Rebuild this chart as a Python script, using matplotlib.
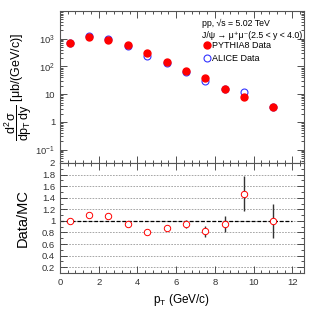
import matplotlib
matplotlib.use("Agg")
import matplotlib.pyplot as plt
from matplotlib.ticker import AutoMinorLocator, LogLocator, NullFormatter, FixedLocator
import numpy as np

# data
pt = [0.5, 1.5, 2.5, 3.5, 4.5, 5.5, 6.5, 7.5, 8.5, 9.5, 11.0]
pythia = [690, 1140, 920, 575, 300, 150, 66, 37, 15.8, 8.0, 3.5]
alice = [690, 1260, 990, 545, 235, 130, 62, 30, 15, 11.8, 3.5]
ratio = [1.0, 1.1, 1.08, 0.95, 0.8, 0.88, 0.94, 0.82, 0.95, 1.47, 1.0]
ratio_err = [0.02, 0.02, 0.02, 0.02, 0.02, 0.03, 0.07, 0.09, 0.14, 0.30, 0.30]

plt.rcParams['font.family'] = ['Liberation Sans', 'DejaVu Sans']
plt.rcParams['mathtext.fontset'] = 'custom'
plt.rcParams['mathtext.rm'] = 'Liberation Sans'
plt.rcParams['mathtext.it'] = 'Liberation Sans'

fig = plt.figure(figsize=(3.31, 3.24), dpi=100)
ax1 = fig.add_axes([60/331, 1-163/324, 244/331, 152/324])
ax2 = fig.add_axes([60/331, 1-273/324, 244/331, 110/324], sharex=ax1)


def root_style(ax):
    ax.tick_params(which='both', direction='in', top=True, right=True, labelsize=6.8, colors='#333333')
    ax.tick_params(which='major', length=5, width=0.6)
    ax.tick_params(which='minor', length=2.5, width=0.6)
    for s in ax.spines.values():
        s.set_color('#555555')
        s.set_linewidth(0.8)


# top panel
ax1.set_yscale('log')
ax1.plot(pt, pythia, 'o', color='red', ms=5, label='PYTHIA8 Data', zorder=3)
ax1.plot(pt, alice, 'o', mfc='none', mec='#3333ff', mew=0.8, ms=5, label='ALICE Data', zorder=2)
ax1.set_ylim(0.033, 1.0e4)
ax1.set_xlim(0, 12.6)
ax1.yaxis.set_major_locator(FixedLocator([0.1, 1, 10, 100, 1000]))
ax1.set_yticklabels([r'$10^{-1}$', '1', '10', r'$10^{2}$', r'$10^{3}$'])
ax1.yaxis.set_minor_locator(LogLocator(base=10, subs=np.arange(2, 10)))
ax1.yaxis.set_minor_formatter(NullFormatter())
ax1.xaxis.set_minor_locator(AutoMinorLocator(5))
root_style(ax1)
plt.setp(ax1.get_xticklabels(), visible=False)
ax1.set_ylabel(r'$\dfrac{d^2\sigma}{dp_T\,dy}$ [$\mu$b/(GeV/c)]', fontsize=9, labelpad=1)
ax1.text(0.581, 0.919, 'pp, \u221as = 5.02 TeV', transform=ax1.transAxes, fontsize=6.3, va='center')
ax1.text(0.581, 0.842, 'J/\u03c8 \u2192 \u03bc\u207a\u03bc\u207b(2.5 < y < 4.0)', transform=ax1.transAxes,
         fontsize=6.3, va='center')
ax1.legend(loc='upper left', bbox_to_anchor=(0.586, 0.8), frameon=False, fontsize=6.5,
           handletextpad=0.2, labelspacing=0.45, handlelength=0.8, borderpad=0, borderaxespad=0)

# bottom panel
for yv in np.arange(0.2, 2.01, 0.2):
    ax2.axhline(yv, color='#999999', lw=0.6, ls=(0, (2, 1.5)), zorder=0)
ax2.plot([0, 12], [1, 1], color='black', lw=0.9, ls=(0, (3, 1.5)), zorder=1)
ax2.errorbar(pt, ratio, yerr=ratio_err, fmt='none', ecolor='#333333', elinewidth=1.0, capsize=0, zorder=2)
ax2.plot(pt, ratio, 'o', mfc='white', mec='red', mew=0.7, ms=4.6, zorder=3)
ax2.set_ylim(0.1, 2.0)
ax2.set_yticks(np.arange(0.2, 2.01, 0.2))
ax2.set_yticklabels(['0.2', '0.4', '0.6', '0.8', '1', '1.2', '1.4', '1.6', '1.8', '2'])
ax2.set_xticks([0, 2, 4, 6, 8, 10, 12])
ax2.xaxis.set_minor_locator(AutoMinorLocator(5))
ax2.yaxis.set_minor_locator(AutoMinorLocator(2))
root_style(ax2)
ax2.set_ylabel('Data/MC', fontsize=10.5, labelpad=9)
ax2.set_xlabel(r'p$_\mathregular{T}$ (GeV/c)', fontsize=8.5)

fig.savefig('out.png', dpi=100)
